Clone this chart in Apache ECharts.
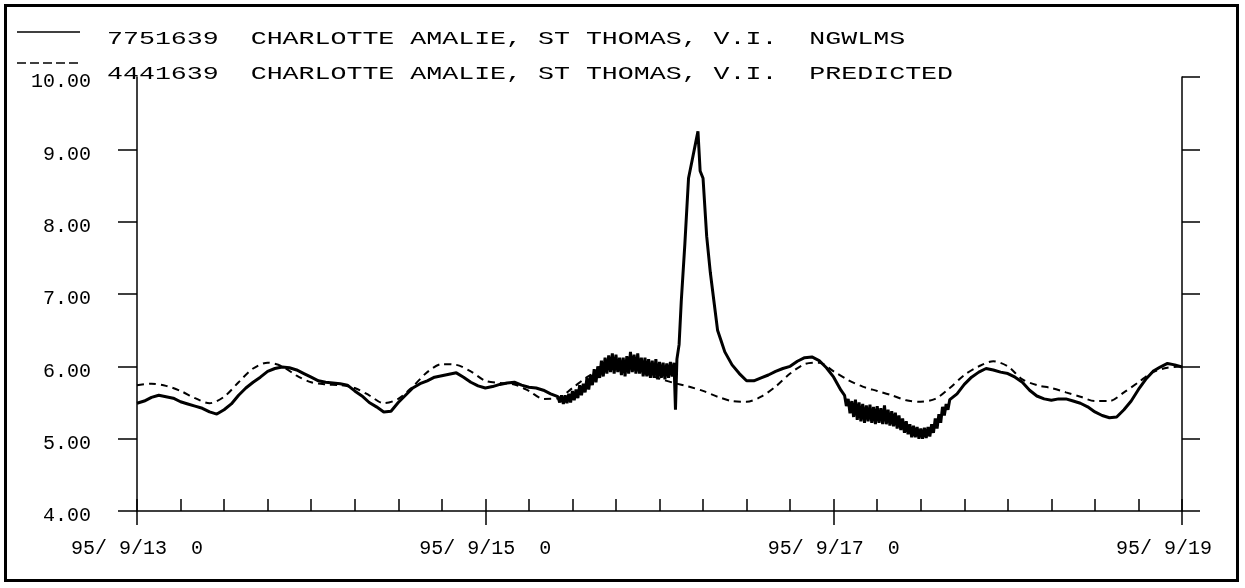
<!DOCTYPE html>
<html>
<head>
<meta charset="utf-8">
<style>
html,body{margin:0;padding:0;background:#fff;}
#chart{width:1245px;height:588px;}
</style>
<script src="https://cdn.jsdelivr.net/npm/echarts@6/dist/echarts.min.js"></script>
</head>
<body>
<div id="chart"></div>
<script>
// Hours since 95/9/13 00:00 and water level (ft)
const observedNgwlms = [
  [0,5.49],[1,5.52],[2,5.57],[3,5.60],[4,5.58],[5,5.56],[6,5.51],[7,5.48],[8,5.45],[9,5.42],
  [10,5.37],[11,5.34],[12,5.40],[13,5.48],[14,5.60],[15,5.70],[16,5.78],[17,5.85],[18,5.93],[19,5.97],
  [20,5.99],[21,5.98],[22,5.95],[23,5.90],[24,5.85],[25,5.80],[26,5.78],[27,5.77],[28,5.76],[29,5.74],
  [30,5.66],[31,5.59],[32,5.50],[33,5.44],[34,5.37],[35,5.38],[36,5.50],[37,5.60],[38,5.70],[39,5.76],
  [40,5.80],[41,5.85],[42,5.87],[43,5.89],[44,5.91],[45,5.85],[46,5.78],[47,5.73],[48,5.70],[49,5.72],
  [50,5.75],[51,5.77],[52,5.78],[53,5.74],[54,5.71],[55,5.70],[56,5.67],[57,5.62],
  [58,5.58],[58.25,5.50],[58.5,5.60],[58.75,5.48],[59,5.60],[59.25,5.49],[59.5,5.62],[59.75,5.50],
  [60,5.66],[60.25,5.53],[60.5,5.68],[60.75,5.56],[61,5.74],[61.25,5.60],[61.5,5.76],[61.75,5.64],
  [62,5.84],[62.25,5.68],[62.5,5.88],[62.75,5.74],[63,5.96],[63.25,5.78],[63.5,6.00],[63.75,5.84],
  [64,6.08],[64.25,5.86],[64.5,6.12],[64.75,5.90],[65,6.15],[65.25,5.92],[65.5,6.18],[65.75,5.90],
  [66,6.16],[66.25,5.92],[66.5,6.12],[66.75,5.88],[67,6.12],[67.25,5.86],[67.5,6.14],[67.75,5.90],
  [68,6.20],[68.25,5.92],[68.5,6.16],[68.75,5.90],[69,6.18],[69.25,5.90],[69.5,6.12],[69.75,5.86],
  [70,6.12],[70.25,5.86],[70.5,6.10],[70.75,5.84],[71,6.08],[71.25,5.84],[71.5,6.10],[71.75,5.82],
  [72,6.06],[72.25,5.84],[72.5,6.05],[72.75,5.82],[73,6.04],[73.25,5.84],[73.5,6.06],[73.75,5.86],
  [74,6.05],[74.2,5.40],[74.4,6.10],[74.7,6.30],[75,6.90],[75.5,7.70],[76,8.60],[76.5,8.85],
  [77,9.10],[77.3,9.25],[77.6,8.70],[78,8.60],[78.5,7.80],[79,7.30],[79.5,6.90],[80,6.50],
  [80.5,6.35],[81,6.20],[82,6.02],[83,5.90],[84,5.80],[85,5.80],[86,5.84],[87,5.88],[88,5.93],[89,5.97],
  [90,6.00],[91,6.07],[92,6.12],[93,6.13],[94,6.08],[95,5.98],[96,5.85],[97,5.67],
  [97.5,5.60],[97.75,5.45],[98,5.55],[98.25,5.35],[98.5,5.52],[98.75,5.30],
  [99,5.54],[99.25,5.26],[99.5,5.50],[99.75,5.24],[100,5.48],[100.25,5.22],[100.5,5.46],[100.75,5.24],
  [101,5.47],[101.25,5.22],[101.5,5.44],[101.75,5.20],[102,5.45],[102.25,5.22],[102.5,5.42],[102.75,5.20],
  [103,5.46],[103.25,5.20],[103.5,5.40],[103.75,5.18],[104,5.38],[104.25,5.17],[104.5,5.36],[104.75,5.14],
  [105,5.32],[105.25,5.12],[105.5,5.28],[105.75,5.08],[106,5.24],[106.25,5.06],[106.5,5.20],[106.75,5.02],
  [107,5.18],[107.25,5.02],[107.5,5.16],[107.75,5.00],[108,5.14],[108.25,5.00],[108.5,5.15],[108.75,5.01],
  [109,5.16],[109.25,5.03],[109.5,5.20],[109.75,5.08],[110,5.28],[110.25,5.14],[110.5,5.34],[110.75,5.22],
  [111,5.44],[111.25,5.32],[111.5,5.48],[111.75,5.40],[112,5.54],
  [113,5.62],[114,5.75],[115,5.85],[116,5.92],[117,5.97],[118,5.95],[119,5.92],
  [120,5.90],[121,5.85],[122,5.78],[123,5.67],[124,5.59],[125,5.55],[126,5.53],[127,5.55],[128,5.55],[129,5.52],
  [130,5.49],[131,5.44],[132,5.37],[133,5.32],[134,5.29],[135,5.30],[136,5.40],[137,5.52],[138,5.68],[139,5.82],
  [140,5.93],[141,5.99],[142,6.04],[143,6.02],[144,5.99]
];
const predictedTide = [
  [0,5.74],[2,5.76],[4,5.73],[6,5.66],[8,5.56],[10,5.49],[12,5.58],[14,5.78],[16,5.97],[18,6.05],
  [20,6.00],[22,5.87],[24,5.78],[26,5.75],[28,5.74],[30,5.70],[32,5.60],[34,5.49],[36,5.55],[38,5.72],
  [40,5.92],[42,6.03],[44,6.02],[46,5.93],[48,5.80],[50,5.77],[52,5.75],[54,5.66],[56,5.55],[58,5.56],
  [60,5.70],[62,5.85],[64,5.95],[66,5.99],[68,5.97],[70,5.90],[72,5.83],[74,5.77],[76,5.72],[78,5.66],
  [80,5.58],[82,5.52],[84,5.51],[86,5.58],[88,5.72],[90,5.90],[92,6.03],[94,6.05],[96,5.93],[98,5.81],
  [100,5.72],[102,5.66],[104,5.60],[106,5.53],[108,5.51],[110,5.55],[112,5.70],[114,5.88],[116,6.00],[118,6.07],
  [120,6.00],[122,5.82],[124,5.74],[126,5.70],[128,5.64],[130,5.58],[132,5.52],[134,5.52],[136,5.64],[138,5.78],
  [140,5.92],[142,5.98],[144,6.00]
];
const headerLines = [
  '7751639  CHARLOTTE AMALIE, ST THOMAS, V.I.  NGWLMS',
  '4441639  CHARLOTTE AMALIE, ST THOMAS, V.I.  PREDICTED'
];
const yTickValues = [4,5,6,7,8,9,10];
const startDay = 13;

const FONT = '"Liberation Mono", "DejaVu Sans Mono", monospace';
const chart = echarts.init(document.getElementById('chart'), null, {renderer:'canvas'});

function xLabel(v){
  const d = startDay + Math.round(v/24);
  const base = '95/ 9/' + d;
  if (v >= 144) return '{d|' + base + '}{z|  0}';
  return '{d|' + base + '  0}';
}

chart.setOption({
  animation:false,
  backgroundColor:'#fff',
  grid:{left:137, right:63, top:77, bottom:77, containLabel:false, outerBoundsMode:'none'},
  xAxis:[
    {type:'value', min:0, max:144, interval:6, position:'bottom',
     axisLine:{show:true, onZero:false, lineStyle:{color:'#000', width:1.5}},
     axisTick:{show:true, inside:true, length:12, lineStyle:{color:'#000', width:1.5}},
     axisLabel:{show:false}, splitLine:{show:false}},
    {type:'value', min:0, max:144, interval:48, position:'bottom',
     axisLine:{show:false, onZero:false},
     axisTick:{show:true, inside:false, length:14, lineStyle:{color:'#000', width:1.5}},
     axisLabel:{show:true, margin:28, color:'#000', fontFamily:FONT, fontSize:20,
       formatter:xLabel,
       rich:{d:{color:'#000', fontFamily:FONT, fontSize:20}, z:{color:'rgba(0,0,0,0)', fontFamily:FONT, fontSize:20}}},
     splitLine:{show:false}}
  ],
  yAxis:[
    {type:'value', min:4, max:10, interval:1, position:'left',
     axisLine:{show:true, onZero:false, lineStyle:{color:'#000', width:1.5}},
     axisTick:{show:true, inside:false, length:19, customValues:[4,5,6,7,8,9], lineStyle:{color:'#000', width:1.5}},
     axisLabel:{show:true, margin:46, color:'#000', fontFamily:FONT, fontSize:20,
       verticalAlign:'top', lineHeight:10,
       customValues:yTickValues, formatter:v=>v.toFixed(2)},
     splitLine:{show:false}},
    {type:'value', min:4, max:10, interval:1, position:'right',
     axisLine:{show:true, onZero:false, lineStyle:{color:'#000', width:1.5}},
     axisTick:{show:true, inside:false, length:18, lineStyle:{color:'#000', width:1.5}},
     axisLabel:{show:false}, splitLine:{show:false}}
  ],
  series:[
    {name:headerLines[1], type:'line', xAxisIndex:0, yAxisIndex:0, data:predictedTide,
     showSymbol:false, smooth:0.3, lineStyle:{color:'#000', width:2, type:[7,5]}, z:2},
    {name:headerLines[0], type:'line', xAxisIndex:0, yAxisIndex:0, data:observedNgwlms,
     showSymbol:false, smooth:false, lineStyle:{color:'#000', width:3}, z:3}
  ],
  graphic:[
    {type:'rect', shape:{x:5.5, y:5.5, width:1232, height:575}, style:{fill:'none', stroke:'#000', lineWidth:3}, silent:true},
    {type:'line', shape:{x1:17, y1:32, x2:80, y2:32}, style:{stroke:'#000', lineWidth:1.5}},
    {type:'line', shape:{x1:17, y1:63, x2:80, y2:63}, style:{stroke:'#000', lineWidth:1.5, lineDash:[9,4]}},
    {type:'text', x:107, y:39, scaleX:1.4, originX:0, originY:0,
     style:{text:headerLines[0], font:'19px ' + FONT, fill:'#000', verticalAlign:'middle', align:'left'}},
    {type:'text', x:107, y:74, scaleX:1.4, originX:0, originY:0,
     style:{text:headerLines[1], font:'19px ' + FONT, fill:'#000', verticalAlign:'middle', align:'left'}}
  ]
});
</script>
</body>
</html>
